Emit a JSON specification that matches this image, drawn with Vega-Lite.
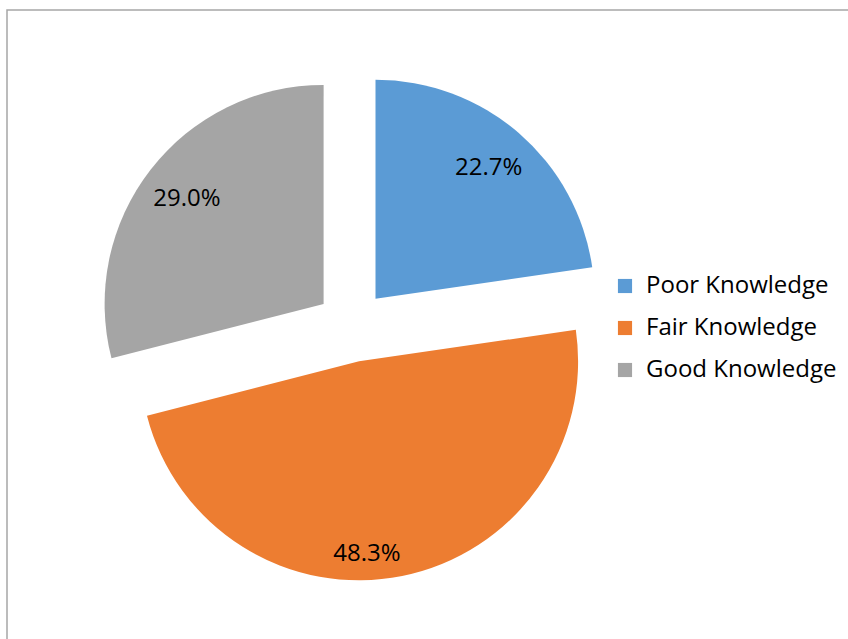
{
  "$schema": "https://vega.github.io/schema/vega-lite/v6.json",
  "width": 845,
  "height": 635,
  "autosize": "none",
  "padding": {"top": 10, "left": 7, "right": 0, "bottom": 0},
  "background": "white",
  "config": {
    "view": {"stroke": null},
    "font": "Open Sans"
  },
  "data": {
    "values": [
      {"k": "Poor Knowledge", "v": 0.227, "o": 1},
      {"k": "Fair Knowledge", "v": 0.483, "o": 2},
      {"k": "Good Knowledge", "v": 0.290, "o": 3}
    ]
  },
  "layer": [
    {
      "data": {"values": [{}]},
      "mark": {"type": "rect", "fill": null, "stroke": "#A6A6A6", "strokeWidth": 1.5},
      "encoding": {
        "x": {"value": 0}, "x2": {"value": "width"},
        "y": {"value": 0}, "y2": {"value": "height"}
      }
    },
    {
      "mark": {"type": "arc", "outerRadius": 219, "x": 345, "y": 316, "xOffset": 23.5, "yOffset": -27.3},
      "encoding": {
        "theta": {"field": "v", "type": "quantitative", "stack": true},
        "order": {"field": "o", "type": "quantitative"},
        "color": {"field": "k", "type": "nominal", "sort": null,
          "scale": {"domain": ["Poor Knowledge", "Fair Knowledge", "Good Knowledge"], "range": ["#5B9BD5", "#ED7D31", "#A5A5A5"]},
          "legend": {"title": null, "orient": "none", "legendX": 606, "legendY": 264, "symbolType": "square", "symbolSize": 200, "symbolStrokeWidth": 0, "labelFontSize": 24, "labelColor": "#000000", "labelFont": "Open Sans", "labelOffset": 9, "labelLimit": 400, "rowPadding": 18}},
        "opacity": {"condition": {"test": "datum.k === 'Poor Knowledge'", "value": 1}, "value": 0}
      }
    },
    {
      "mark": {"type": "arc", "outerRadius": 219, "x": 345, "y": 316, "xOffset": 7.1, "yOffset": 35.3},
      "encoding": {
        "theta": {"field": "v", "type": "quantitative", "stack": true},
        "order": {"field": "o", "type": "quantitative"},
        "color": {"field": "k", "type": "nominal", "sort": null},
        "opacity": {"condition": {"test": "datum.k === 'Fair Knowledge'", "value": 1}, "value": 0}
      }
    },
    {
      "mark": {"type": "arc", "outerRadius": 219, "x": 345, "y": 316, "xOffset": -28.4, "yOffset": -22.1},
      "encoding": {
        "theta": {"field": "v", "type": "quantitative", "stack": true},
        "order": {"field": "o", "type": "quantitative"},
        "color": {"field": "k", "type": "nominal", "sort": null},
        "opacity": {"condition": {"test": "datum.k === 'Good Knowledge'", "value": 1}, "value": 0}
      }
    },
    {
      "mark": {"type": "text", "radius": 173, "x": 345, "y": 316, "xOffset": 23.5, "yOffset": -27.3, "fontSize": 24, "color": "#000000"},
      "encoding": {
        "theta": {"field": "v", "type": "quantitative", "stack": true},
        "order": {"field": "o", "type": "quantitative"},
        "text": {"condition": {"test": "datum.k === 'Poor Knowledge'", "field": "v", "type": "quantitative", "format": ".1%"}, "value": ""}
      }
    },
    {
      "mark": {"type": "text", "radius": 173, "x": 345, "y": 316, "xOffset": -19, "yOffset": 58, "fontSize": 24, "color": "#000000"},
      "encoding": {
        "theta": {"field": "v", "type": "quantitative", "stack": true},
        "order": {"field": "o", "type": "quantitative"},
        "text": {"condition": {"test": "datum.k === 'Fair Knowledge'", "field": "v", "type": "quantitative", "format": ".1%"}, "value": ""}
      }
    },
    {
      "mark": {"type": "text", "radius": 173, "x": 345, "y": 316, "xOffset": -28.4, "yOffset": -20.5, "fontSize": 24, "color": "#000000"},
      "encoding": {
        "theta": {"field": "v", "type": "quantitative", "stack": true},
        "order": {"field": "o", "type": "quantitative"},
        "text": {"condition": {"test": "datum.k === 'Good Knowledge'", "field": "v", "type": "quantitative", "format": ".1%"}, "value": ""}
      }
    }
  ]
}
